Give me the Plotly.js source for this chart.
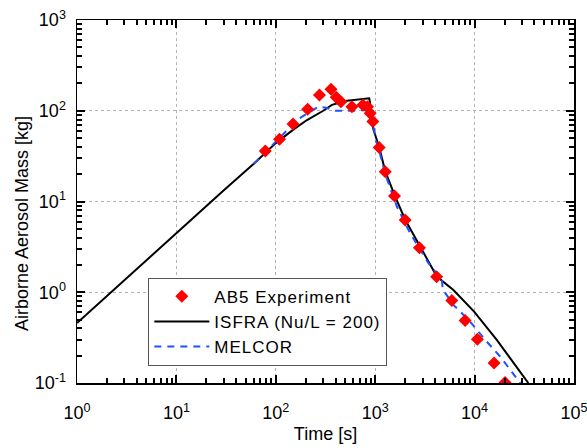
<!DOCTYPE html>
<html>
<head>
<meta charset="utf-8">
<script src="https://cdn.plot.ly/plotly-3.0.1.min.js"></script>
<style>
html,body{margin:0;padding:0;background:#fff;}
#chart{width:587px;height:448px;}
.legendtext{letter-spacing:1px;}
</style>
</head>
<body>
<div id="chart"></div>
<script>
// AB5 experiment (red diamonds)
const expTime = [78.4,109,149,209,275,359,405,452,583,752,837,891,948,1097,1262,1563,2003,2786,4150,5900,8030,10670,15700,20260];
const expMass = [36.1,48.5,71.6,104,149,173,141,126,111,116,111,93.8,75.9,39.4,21.3,11.5,6.27,3.10,1.48,0.81,0.488,0.304,0.166,0.101];

// ISFRA (Nu/L = 200) (black solid)
const isfraTime = [1,10,30,60,100,150,206,300,367,520,700,870,885,905,925,960,1097,1262,1589,2003,2833,4170,6120,9890,16710,34700];
const isfraMass = [0.457,4.5,13.3,26,44,62,79,100,116,129,135,137,125,95,75,62,39.6,21.5,11.3,6.3,3.19,1.49,1.06,0.612,0.299,0.1];

// MELCOR (blue dashed)
const melTime = [60,100,168,269,320,400,600,800,880,920,970,1030,1100,1262,1652,2244,3435,4680,4790,6120,9010,12760,18040,25500,28800];
const melMass = [26,45.7,81,111,108,100,100,102,100,85,60,45,36,20,8.8,4.48,2.09,1.37,1.07,0.726,0.475,0.299,0.196,0.118,0.1];

const xTickVals = [1,10,100,1000,10000,100000];
const xTickText = ['10<sup>0</sup>','10<sup>1</sup>','10<sup>2</sup>','10<sup>3</sup>','10<sup>4</sup>','10<sup>5</sup>'];
const yTickVals = [0.1,1,10,100,1000];
const yTickText = ['10<sup>-1</sup>','10<sup>0</sup>','10<sup>1</sup>','10<sup>2</sup>','10<sup>3</sup>'];

function minorVals(lo, hi){
  const v = [];
  for(let e = lo; e < hi; e++){
    for(let d = 2; d <= 9; d++) v.push(d*Math.pow(10,e));
  }
  return v;
}

const font = {family:'Liberation Sans, Arial, sans-serif', size:18, color:'#000'};

const traces = [
  {x: isfraTime, y: isfraMass, type:'scatter', mode:'lines', name:'ISFRA (Nu/L = 200)',
   line:{color:'#000', width:2}, legendrank:2},
  {x: melTime, y: melMass, type:'scatter', mode:'lines', name:'MELCOR',
   line:{color:'#2050ff', width:2, dash:'7px,6px'}, legendrank:3},
  {x: expTime, y: expMass, type:'scatter', mode:'markers', name:'AB5 Experiment',
   marker:{symbol:'diamond', size:10, color:'#ff0000'}, legendrank:1},
  // invisible copy so the minor-tick overlay axes get a subplot
  {x: expTime, y: expMass, xaxis:'x2', yaxis:'y2', type:'scatter', mode:'markers',
   marker:{opacity:0}, showlegend:false, hoverinfo:'skip'}
];

const axisCommon = {
  type:'log', showline:true, linecolor:'#000', linewidth:1.5, mirror:'ticks',
  ticks:'inside', ticklen:8, tickwidth:2, tickcolor:'#000',
  showgrid:true, gridcolor:'#b4b4b4', griddash:'dot', gridwidth:1,
  zeroline:false, tickmode:'array', tickfont:font
};

const minorAxis = {
  type:'log', showline:false, mirror:'ticks', ticks:'inside', ticklen:5, tickwidth:2, tickcolor:'#000',
  showgrid:false, zeroline:false, showticklabels:false, tickmode:'array'
};

const layout = {
  width:587, height:448,
  margin:{l:77, r:13, t:20, b:65},
  paper_bgcolor:'#fff', plot_bgcolor:'#fff',
  font: font,
  showlegend:true,
  legend:{x:0.1435, y:0.29, xanchor:'left', yanchor:'top',
          bgcolor:'#fff', bordercolor:'#555', borderwidth:1,
          font:{family:'Liberation Sans, Arial, sans-serif', size:17, color:'#000'},
          itemwidth:55, tracegroupgap:0},
  xaxis: Object.assign({}, axisCommon, {
    range:[0,5], tickvals:xTickVals, ticktext:xTickText, ticklabelstandoff:13,
    ticklabeloverflow:'allow',
    title:{text:'Time [s]', font:font, standoff:5}
  }),
  yaxis: Object.assign({}, axisCommon, {
    range:[-1,3], tickvals:yTickVals, ticktext:yTickText, ticklabelstandoff:6
  }),
  xaxis2: Object.assign({}, minorAxis, {range:[0,5], overlaying:'x', anchor:'y2', side:'bottom', tickvals:minorVals(0,5)}),
  yaxis2: Object.assign({}, minorAxis, {range:[-1,3], overlaying:'y', anchor:'x2', side:'left', tickvals:minorVals(-1,3)}),
  annotations:[{
    text:'Airborne Aerosol Mass [kg]', textangle:-90, showarrow:false,
    xref:'paper', yref:'paper', x:-0.1107, y:0.4408, xanchor:'center', yanchor:'middle',
    font:font
  }]
};

Plotly.newPlot('chart', traces, layout, {displayModeBar:false, staticPlot:true});
</script>
</body>
</html>
